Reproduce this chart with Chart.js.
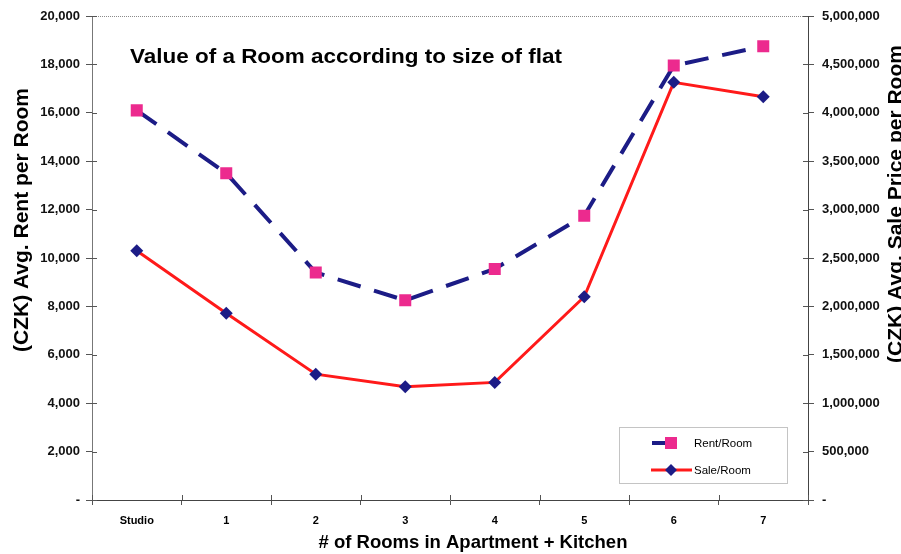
<!DOCTYPE html>
<html>
<head>
<meta charset="utf-8">
<script src="https://cdn.jsdelivr.net/npm/chart.js@4.4.1/dist/chart.umd.min.js"></script>
<style>
  html, body { margin: 0; padding: 0; background: #ffffff; }
  canvas { display: block; }
</style>
</head>
<body>
<canvas id="c" width="901" height="554"></canvas>
<script>
// ---- data ----
const categories = ['Studio', '1', '2', '3', '4', '5', '6', '7'];
const rentPerRoom = [16100, 13500, 9400, 8250, 9550, 11750, 17950, 18750];
const salePerRoom = [2575000, 1930000, 1300000, 1170000, 1215000, 2100000, 4315000, 4165000];
const seriesNames = ['Rent/Room', 'Sale/Room'];
const chartTitle = 'Value of a Room according to size of flat';
const xTitle = '# of Rooms in Apartment + Kitchen';
const leftTitle = '(CZK) Avg. Rent per Room';
const rightTitle = '(CZK) Avg. Sale Price per Room';
const leftRange = [0, 20000, 2000];
const rightRange = [0, 5000000, 500000];

// ---- styles ----
const NAVY = '#1c1c86';
const PINK = '#ec2a8e';
const RED = '#ff1a1a';
const FONT = '"Liberation Sans", Arial, sans-serif';

function fmt(v) { return v === 0 ? '-' : Number(v).toLocaleString('en-US'); }

const decor = {
  id: 'decor',
  beforeDatasetsDraw(chart) {
    const { ctx, chartArea: a } = chart;
    ctx.save();
    ctx.strokeStyle = '#8a8a8a';
    ctx.lineWidth = 1;
    ctx.setLineDash([1, 1]);
    ctx.beginPath();
    ctx.moveTo(a.left, a.top + 0.5);
    ctx.lineTo(a.right, a.top + 0.5);
    ctx.stroke();
    ctx.setLineDash([]);
    ctx.strokeStyle = '#555';
    const yl = chart.scales.y, yr = chart.scales.y1, xs = chart.scales.x;
    yl.ticks.forEach((t, i) => {
      const p = Math.round(yl.getPixelForTick(i)) + 0.5;
      ctx.beginPath(); ctx.moveTo(a.left, p); ctx.lineTo(a.left + 5, p); ctx.stroke();
    });
    yr.ticks.forEach((t, i) => {
      const p = Math.round(yr.getPixelForTick(i)) + 0.5;
      ctx.beginPath(); ctx.moveTo(a.right - 5, p); ctx.lineTo(a.right, p); ctx.stroke();
    });
    for (let i = 0; i <= xs.ticks.length; i++) {
      const p = Math.round(xs.getPixelForValue(i - 0.5)) + 0.5;
      ctx.beginPath(); ctx.moveTo(p, a.bottom - 5); ctx.lineTo(p, a.bottom); ctx.stroke();
    }
    ctx.restore();
  },
  afterDraw(chart) {
    const { ctx, chartArea: a } = chart;
    ctx.save();
    ctx.fillStyle = '#000';
    // chart title inside plot (slightly wide lettering as in the source)
    ctx.save();
    ctx.font = 'bold 21px ' + FONT;
    ctx.textAlign = 'left';
    ctx.textBaseline = 'alphabetic';
    ctx.translate(a.left + 38, a.top + 47);
    ctx.scale(1.07, 1);
    ctx.fillText(chartTitle, 0, 0);
    ctx.restore();
    // x axis title
    ctx.save();
    ctx.font = 'bold 18.5px ' + FONT;
    ctx.textAlign = 'center';
    ctx.textBaseline = 'middle';
    ctx.fillText(xTitle, (a.left + a.right) / 2 + 23, 543);
    ctx.restore();
    // left axis title
    ctx.font = 'bold 21px ' + FONT;
    ctx.save();
    ctx.translate(22, a.top + 204);
    ctx.rotate(-Math.PI / 2);
    ctx.textAlign = 'center';
    ctx.textBaseline = 'middle';
    ctx.fillText(leftTitle, 0, 0);
    ctx.restore();
    // right axis title (reads bottom-to-top, clipped by the edge)
    ctx.save();
    ctx.translate(chart.width + 1, a.top + 188);
    ctx.rotate(-Math.PI / 2);
    ctx.textAlign = 'center';
    ctx.textBaseline = 'alphabetic';
    ctx.fillText(rightTitle, 0, 0);
    ctx.restore();
    // legend box
    const bx = a.right - 189, by = a.bottom - 73, bw = 168, bh = 56;
    ctx.fillStyle = '#fff';
    ctx.fillRect(bx, by, bw, bh);
    ctx.strokeStyle = '#888';
    ctx.setLineDash([1, 1]);
    ctx.lineWidth = 1;
    ctx.strokeRect(bx + 0.5, by + 0.5, bw, bh);
    ctx.setLineDash([]);
    ctx.textBaseline = 'middle';
    const ds = chart.data.datasets;
    let ly = by + 16;
    ctx.strokeStyle = ds[0].borderColor; ctx.lineWidth = ds[0].borderWidth;
    ctx.beginPath(); ctx.moveTo(bx + 33, ly); ctx.lineTo(bx + 58, ly); ctx.stroke();
    ctx.fillStyle = ds[0].pointBackgroundColor;
    ctx.fillRect(bx + 46, ly - 6, 12, 12);
    ctx.fillStyle = '#000';
    ctx.font = '11.5px ' + FONT;
    ctx.textAlign = 'left';
    ctx.fillText(ds[0].label, bx + 75, ly + 1);
    ly = by + 43;
    ctx.strokeStyle = ds[1].borderColor; ctx.lineWidth = ds[1].borderWidth;
    ctx.beginPath(); ctx.moveTo(bx + 32, ly); ctx.lineTo(bx + 73, ly); ctx.stroke();
    ctx.fillStyle = ds[1].pointBackgroundColor;
    ctx.beginPath();
    ctx.moveTo(bx + 52, ly - 6); ctx.lineTo(bx + 58, ly); ctx.lineTo(bx + 52, ly + 6); ctx.lineTo(bx + 46, ly);
    ctx.closePath(); ctx.fill();
    ctx.fillStyle = '#000';
    ctx.fillText(ds[1].label, bx + 75, ly + 1);
    ctx.restore();
  }
};

new Chart(document.getElementById('c'), {
  type: 'line',
  data: {
    labels: categories,
    datasets: [
      {
        label: seriesNames[0],
        data: rentPerRoom,
        yAxisID: 'y',
        borderColor: NAVY,
        borderWidth: 4,
        borderDash: [24, 14],
        tension: 0,
        pointStyle: 'rect',
        pointRadius: 8.5,
        pointHoverRadius: 8.5,
        pointBackgroundColor: PINK,
        pointBorderColor: PINK,
        pointBorderWidth: 0,
        fill: false
      },
      {
        label: seriesNames[1],
        data: salePerRoom,
        yAxisID: 'y1',
        borderColor: RED,
        borderWidth: 3,
        tension: 0,
        pointStyle: 'rectRot',
        pointRadius: 6.5,
        pointHoverRadius: 6.5,
        pointBackgroundColor: NAVY,
        pointBorderColor: NAVY,
        pointBorderWidth: 0,
        fill: false
      }
    ]
  },
  options: {
    responsive: false,
    animation: false,
    events: [],
    layout: { padding: { top: 16, left: 0, right: 0, bottom: 0 } },
    plugins: {
      legend: { display: false },
      title: { display: false },
      tooltip: { enabled: false }
    },
    scales: {
      x: {
        offset: true,
        grid: { display: true, drawOnChartArea: false, offset: true, tickLength: 5, color: '#555' },
        border: { display: true, color: '#444', width: 1 },
        ticks: { color: '#000', font: { family: FONT, size: 11, weight: 'bold' }, padding: 9, maxRotation: 0 },
        afterFit(s) { s.height = 54; }
      },
      y: {
        position: 'left',
        min: leftRange[0], max: leftRange[1],
        grid: { display: true, drawOnChartArea: false, tickLength: 6, color: '#555' },
        border: { display: true, color: '#777', width: 1 },
        ticks: { stepSize: leftRange[2], color: '#111', font: { family: FONT, size: 13, weight: 'bold' }, padding: 6, callback: fmt },
        afterFit(s) { s.width = 92; }
      },
      y1: {
        position: 'right',
        min: rightRange[0], max: rightRange[1],
        grid: { display: true, drawOnChartArea: false, tickLength: 6, color: '#555' },
        border: { display: true, color: '#444', width: 1 },
        ticks: { stepSize: rightRange[2], color: '#111', font: { family: FONT, size: 13, weight: 'bold' }, padding: 8, callback: fmt },
        afterFit(s) { s.width = 93; }
      }
    }
  },
  plugins: [decor]
});
</script>
</body>
</html>
